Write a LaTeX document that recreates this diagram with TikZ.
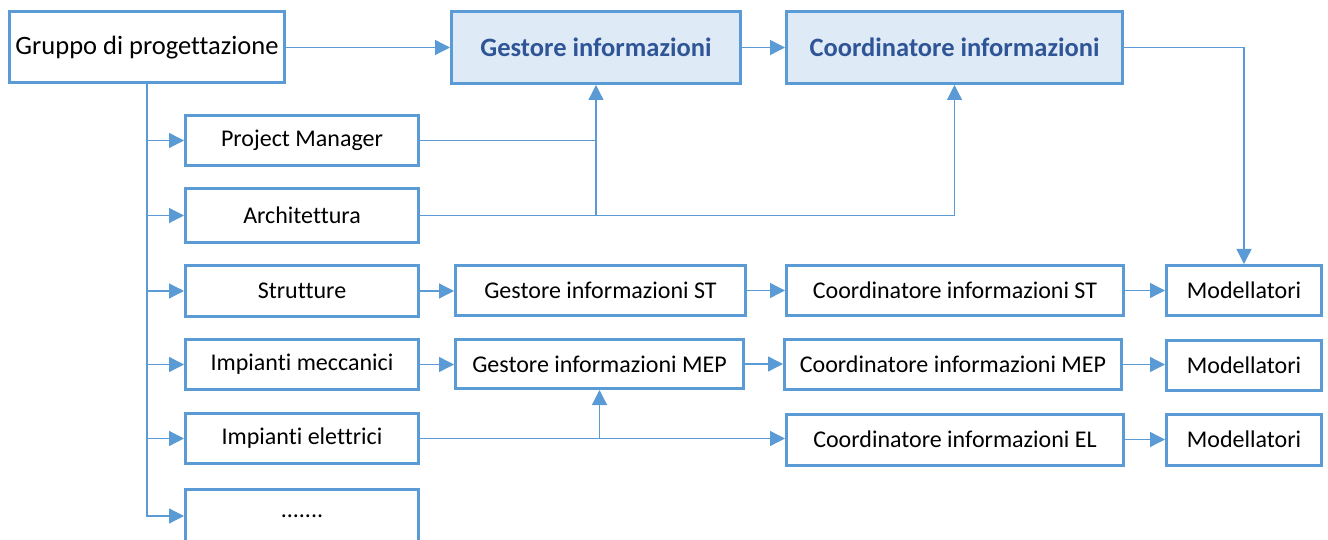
\documentclass[tikz,border=0pt]{standalone}
\usepackage{fontspec}
\setmainfont[Ligatures={NoCommon,NoRare}]{Carlito}
\usetikzlibrary{arrows.meta,calc}
\definecolor{bord}{HTML}{5B9BD5}
\definecolor{lfill}{HTML}{DEEBF7}
\definecolor{dtext}{HTML}{2F5597}
\tikzset{
  box/.style={draw=bord,line width=3pt,fill=white,inner sep=0pt,font=\fontsize{24}{28}\selectfont},
  hbox/.style={box,fill=lfill,text=dtext,font=\fontsize{26.5}{30}\selectfont\bfseries},
  conn/.style={draw=bord,line width=1.3pt},
  arr/.style={conn,-{Triangle[length=15pt,width=15pt]}}
}
\begin{document}
\begin{tikzpicture}[x=1pt,y=-1pt]
\useasboundingbox (0,0) rectangle (1328,540);
\fill[white] (0,0) rectangle (1328,540);
% top row
\node[box,minimum width=275pt,minimum height=71pt,font=\fontsize{26.5}{30}\selectfont] (grp) at (147,47.5) {Gruppo di progettazione};
\node[hbox,minimum width=289pt,minimum height=72pt] (gi) at (596,47.5) {Gestore informazioni};
\node[hbox,minimum width=336pt,minimum height=72pt] (ci) at (954.5,47.5) {Coordinatore informazioni};
% left column
\node[box,minimum width=233pt,minimum height=50pt] (pm) at (302,140.5) {Project Manager};
\node[box,minimum width=233pt,minimum height=54pt] (arch) at (302,215.5) {Architettura};
\node[box,minimum width=233pt,minimum height=51pt] (str) at (302,291) {Strutture};
\node[box,minimum width=233pt,minimum height=50pt] (mec) at (302,364.5) {Impianti meccanici};
\node[box,minimum width=233pt,minimum height=50pt] (ele) at (302,438.5) {Impianti elettrici};
\node[box,minimum width=233pt,minimum height=54pt] (dots) at (302,516) {.......};
% middle columns
\node[box,minimum width=290pt,minimum height=50pt] (gst) at (600.5,290.5) {Gestore informazioni ST};
\node[box,minimum width=288pt,minimum height=49pt] (gmep) at (599.5,364) {Gestore informazioni MEP};
\node[box,minimum width=337pt,minimum height=50pt] (cst) at (955,290.5) {Coordinatore informazioni ST};
\node[box,minimum width=337pt,minimum height=50pt] (cmep) at (953,364.5) {Coordinatore informazioni MEP};
\node[box,minimum width=337pt,minimum height=51pt] (cel) at (955,439.5) {Coordinatore informazioni EL};
% right column
\node[box,minimum width=155pt,minimum height=50pt] (m1) at (1244,290.5) {Modellatori};
\node[box,minimum width=155pt,minimum height=50pt] (m2) at (1244,365) {Modellatori};
\node[box,minimum width=155pt,minimum height=51pt] (m3) at (1244,439.5) {Modellatori};
% connectors top
\draw[arr] (grp.east) -- (grp.east -| gi.west);
\draw[arr] (gi.east) -- (gi.east -| ci.west);
\draw[arr] (ci.east) -| (m1.north);
% trunk
\draw[arr] (grp.south) |- (dots.west);
\foreach \n in {pm,arch,str,mec,ele}{
  \draw[arr] (grp.south |- \n.west) -- (\n.west);
}
% PM and Architettura to top
\draw[conn] (pm.east) -- (gi.south |- pm.east);
\draw[arr] (arch.east) -| (ci.south);
\draw[arr] (gi.south |- arch.east) -- (gi.south);
% chains
\draw[arr] (str.east) -- (str.east -| gst.west);
\draw[arr] (gst.east) -- (gst.east -| cst.west);
\draw[arr] (cst.east) -- (cst.east -| m1.west);
\draw[arr] (mec.east) -- (mec.east -| gmep.west);
\draw[arr] (gmep.east) -- (gmep.east -| cmep.west);
\draw[arr] (cmep.east) -- (cmep.east -| m2.west);
\draw[arr] (ele.east) -- (ele.east -| cel.west);
\draw[arr] (gmep.south |- ele.east) -- (gmep.south);
\draw[arr] (cel.east) -- (cel.east -| m3.west);
\end{tikzpicture}
\end{document}
